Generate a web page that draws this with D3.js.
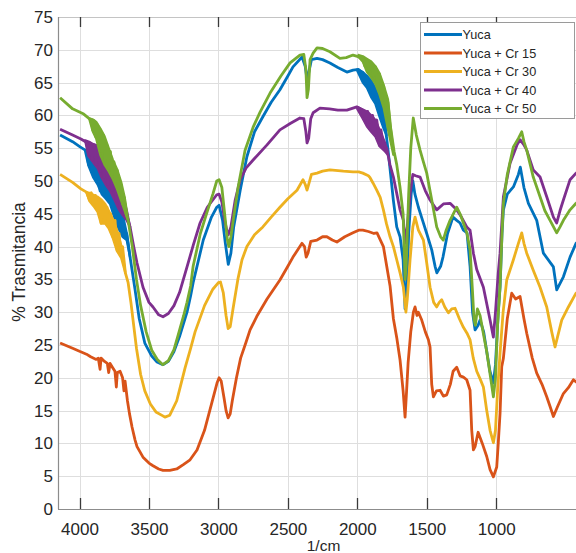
<!DOCTYPE html>
<html>
<head>
<meta charset="utf-8">
<script src="https://cdn.jsdelivr.net/npm/d3@7"></script>
<style>
  html, body { margin: 0; padding: 0; background: #fff; }
  svg { display: block; font-family: "Liberation Sans", Arial, Helvetica, sans-serif; }
</style>
</head>
<body>
<svg id="chart" width="576" height="553"></svg>
<script>
// FTIR transmittance spectra, [wavenumber (1/cm), % transmittance]
const yuca = [[4140,57],[4050,56],[3996,55.2],[3950,54.6],[3935,52.5],[3924,54.3],[3910,51.5],[3895,53.5],[3880,50],[3865,53],[3852,48.5],[3840,52.5],[3825,48],[3810,51.5],[3795,47.5],[3780,50.2],[3765,46.5],[3750,49],[3735,44],[3723,47],[3710,43],[3695,45],[3680,41.5],[3660,42],[3636,38.4],[3600,33.4],[3570,29],[3530,25.3],[3480,23.3],[3442,22.4],[3400,22],[3360,22.5],[3320,24],[3280,26.3],[3226,30],[3200,32.5],[3182,34.5],[3109,41],[3050,44.5],[3012,46],[2995,46.3],[2970,44],[2950,40.5],[2929,37.3],[2910,39],[2890,43],[2843,48.6],[2795,53.7],[2740,57.5],[2680,59.8],[2620,62],[2557,63.9],[2500,66],[2463,67.4],[2398,68.9],[2375,67.5],[2362,65.5],[2350,66.5],[2330,68.5],[2290,68.7],[2250,68.5],[2197,68],[2140,67.3],[2075,66.6],[2030,66.9],[1990,67],[1960,66.5],[1945,65],[1930,66],[1915,64.3],[1900,65.2],[1885,63],[1870,64],[1855,62],[1840,62.8],[1820,60],[1800,58.5],[1780,55],[1760,51],[1740,47],[1716,43],[1692,41.5],[1670,38],[1656,30.5],[1645,33],[1630,42],[1612,48],[1600,50],[1585,48],[1560,46],[1530,44],[1500,42],[1464,39.5],[1440,37],[1427,36],[1400,37],[1383,38.4],[1350,42],[1311,44.5],[1284,44],[1260,43.6],[1236,42.5],[1210,42.1],[1188,37],[1170,30],[1152,27.3],[1130,28],[1116,28.8],[1090,27],[1068,24],[1045,21],[1020,19.2],[1005,22],[985,30],[972,33.8],[958,42],[948,45.6],[920,48],[876,49.1],[840,51],[826,52.1],[800,49],[768,46.6],[708,44],[660,39],[588,36.9],[564,33.4],[516,35.4],[468,38.4],[425,40.5],[400,41]];

const yucaCr15 = [[4140,25.3],[4050,24.5],[3996,24],[3950,23.6],[3920,23.2],[3880,22.8],[3865,23],[3852,21.3],[3845,23],[3820,22.5],[3800,22.2],[3790,20.8],[3780,22.2],[3760,21.5],[3745,21],[3735,18.6],[3728,20.8],[3708,21],[3690,20],[3680,18],[3672,19.5],[3655,16.5],[3640,14.5],[3622,12.5],[3600,10.5],[3586,9.5],[3543,7.9],[3500,7],[3471,6.6],[3430,6.1],[3399,5.9],[3350,5.9],[3300,6.1],[3250,6.8],[3204,7.5],[3154,9],[3100,12],[3050,16],[3010,19.2],[2995,20],[2980,19.5],[2960,17],[2945,15],[2930,13.9],[2915,14.5],[2900,16.5],[2870,20],[2840,23],[2800,25.5],[2772,27.3],[2720,29.5],[2650,32],[2557,34.9],[2500,37],[2463,38.4],[2398,40.5],[2380,40],[2368,38.4],[2355,39],[2335,40.8],[2290,41],[2250,41.5],[2219,41.5],[2180,41],[2147,40.7],[2090,41.5],[2031,42.1],[1990,42.5],[1960,42.5],[1920,42.3],[1880,42],[1858,42.1],[1812,40],[1764,34],[1740,29],[1715,26],[1692,22.7],[1670,18],[1656,14],[1645,18],[1634,22.3],[1615,27],[1596,30],[1584,30.8],[1570,29.5],[1560,30],[1536,28.8],[1510,27],[1488,25.8],[1476,24.7],[1464,19],[1452,17.1],[1430,18],[1404,18.1],[1380,17.2],[1356,17.4],[1330,19],[1310,21],[1284,21.6],[1260,20.3],[1236,20.1],[1212,19.7],[1188,18.1],[1176,12],[1164,9],[1152,9.5],[1130,11.7],[1100,10],[1068,8],[1044,6],[1020,4.9],[996,6.4],[985,10],[972,14.6],[960,21.7],[948,23],[920,29],[888,32.9],[860,32],[828,32.4],[800,29],[780,26.8],[740,23],[708,20.7],[670,19],[636,17.1],[610,15.5],[588,14.1],[560,15.5],[516,17.6],[480,18.5],[444,19.7],[400,19]];

const yucaCr30 = [[4140,51],[4050,49.8],[3990,48.8],[3950,48.3],[3930,47.2],[3915,48.2],[3900,46.5],[3885,47.8],[3870,45.5],[3855,47.2],[3845,43.6],[3830,46.5],[3815,44.2],[3802,46],[3790,43],[3775,45],[3760,41.5],[3744,44],[3730,39.5],[3715,42],[3700,38.5],[3690,40],[3670,36],[3650,34.5],[3630,31.5],[3610,28],[3590,24.5],[3560,20.5],[3530,18],[3490,16],[3450,14.8],[3400,14.2],[3385,14],[3350,14.3],[3300,16.5],[3276,18.5],[3240,21.5],[3200,24.5],[3168,27],[3100,31],[3040,33.5],[3000,34.5],[2985,34.6],[2965,33],[2945,29.5],[2930,27.5],[2915,27.8],[2895,30.5],[2860,35],[2830,38],[2795,40],[2740,41.8],[2680,43],[2620,44.5],[2557,46],[2500,47.3],[2434,48.6],[2391,50.2],[2375,49.5],[2362,48.6],[2350,49.5],[2330,51],[2290,51.2],[2250,51.5],[2197,51.7],[2100,51.5],[2031,51.4],[1990,51.4],[1960,51.2],[1920,50.8],[1908,50.5],[1887,49.7],[1860,48.6],[1835,47.5],[1812,45.6],[1790,43.5],[1764,41.5],[1740,40],[1716,38],[1692,36],[1668,33.8],[1650,30],[1640,32],[1620,38],[1600,43],[1584,44.5],[1560,42.5],[1524,41],[1500,37.5],[1476,33.8],[1450,31.5],[1428,30.8],[1410,31.5],[1392,31.9],[1370,30.8],[1344,29.9],[1320,30.5],[1296,30.6],[1265,29],[1236,27.7],[1210,26.8],[1188,25.8],[1165,23],[1140,21],[1115,19.8],[1092,18.6],[1068,15],[1044,12],[1020,10.1],[1005,12],[990,18],[972,23.8],[950,30],[924,34.9],[876,38],[840,40.5],[816,42.1],[800,40.5],[780,39],[733,36.4],[684,33.8],[636,30.8],[600,27],[576,24.7],[555,26.5],[528,28.8],[480,30.8],[425,32.9],[400,33.2]];

const yucaCr40 = [[4140,57.9],[4050,57],[3990,56.4],[3950,55.9],[3935,54],[3924,55.8],[3910,53.2],[3895,55.5],[3880,52.5],[3865,55.3],[3850,51.5],[3838,55],[3825,50.5],[3810,54],[3795,49.5],[3780,53.2],[3765,48.6],[3750,51.5],[3735,47],[3723,50.2],[3710,46],[3700,48.5],[3686,45],[3670,46],[3650,44],[3636,43],[3610,40],[3586,37.5],[3543,33.8],[3500,31.5],[3471,30.8],[3430,29.6],[3399,29.3],[3360,29.8],[3320,31],[3280,33],[3226,36.9],[3180,40.3],[3132,43.6],[3080,46],[3012,47.9],[2995,48],[2975,46.8],[2955,44],[2940,42.5],[2929,41.8],[2910,43],[2880,47],[2843,50.2],[2800,52],[2750,53.2],[2650,55.5],[2557,57.8],[2480,58.8],[2413,59.6],[2385,59.5],[2370,57.5],[2362,55.8],[2350,56.5],[2335,59.5],[2318,60.4],[2269,61.1],[2200,61],[2140,60.8],[2075,60.8],[2003,61.3],[1960,60.8],[1940,59.5],[1925,60.6],[1908,59],[1890,60],[1875,58.2],[1860,59.3],[1845,57],[1830,57.8],[1810,55.5],[1788,55],[1765,52.5],[1740,50.6],[1715,48],[1692,45.6],[1668,44],[1655,40.5],[1640,43],[1620,48],[1600,51],[1580,50.8],[1548,50.6],[1510,48.5],[1476,47.1],[1428,45.6],[1380,46.5],[1332,46.6],[1284,45.6],[1250,44.5],[1212,43],[1188,42.5],[1164,39],[1140,36.5],[1092,33.8],[1044,28.8],[1020,26.2],[1005,30],[985,36],[972,39],[948,47.6],[900,52.7],[850,55.5],[828,56.3],[800,55.5],[780,54.7],[733,51.7],[684,50.6],[636,47.6],[588,44.5],[564,43.6],[540,45.5],[516,47.1],[468,50.2],[425,51.2],[400,51.5]];

const yucaCr50 = [[4140,62.7],[4050,61],[3970,60.2],[3930,59.5],[3915,59.4],[3905,57.8],[3895,59.2],[3885,56.8],[3872,58.6],[3862,55.5],[3850,57.8],[3840,54.5],[3828,57],[3815,53.2],[3800,55.4],[3790,52],[3778,54.5],[3765,51],[3752,52.9],[3740,50],[3728,51.6],[3715,48.6],[3702,49.5],[3690,46.5],[3678,47.5],[3665,45],[3650,44],[3620,40],[3590,35],[3560,31],[3520,27],[3480,24.2],[3440,22.8],[3400,22],[3360,22.6],[3320,24.3],[3290,26.5],[3250,29.5],[3226,31.5],[3200,34],[3182,37],[3130,42],[3084,45.1],[3040,48],[3012,50],[2995,50.2],[2975,49],[2955,45],[2935,41],[2925,40],[2910,41.5],[2890,44.5],[2858,49.1],[2808,54.7],[2750,58.2],[2700,60.5],[2628,63.4],[2550,66],[2484,68],[2413,69.2],[2385,69.3],[2370,67],[2362,62.7],[2352,64],[2340,68.5],[2318,69.5],[2290,70.3],[2250,70.2],[2197,69.7],[2125,68.7],[2080,68.8],[2031,69.2],[2000,69],[1960,68.7],[1945,67.5],[1930,68.5],[1915,66.8],[1900,68],[1885,66],[1870,67.4],[1855,65],[1840,66.3],[1825,63.5],[1810,64.5],[1795,61.5],[1779,62],[1765,58.5],[1752,57],[1735,54.5],[1716,52.5],[1692,49],[1670,45],[1656,35],[1648,37],[1630,48],[1615,55],[1597,59.6],[1575,57],[1548,54.7],[1525,53],[1500,51.2],[1464,47.1],[1428,43],[1400,41.5],[1381,41],[1360,42.5],[1332,44],[1284,46],[1260,45],[1236,43.6],[1210,42],[1188,39.5],[1170,33],[1160,29],[1150,28],[1135,30.5],[1116,29.5],[1090,26.5],[1068,24],[1040,20],[1020,17.1],[1005,20],[990,28],[972,34],[958,42],[948,46.6],[920,51],[876,55.2],[840,56.5],[816,57.5],[800,56],[780,54.7],[733,50.6],[684,47.6],[650,45.5],[612,44],[564,42.1],[540,43],[516,44],[468,45.6],[425,46.6],[400,47]];

// spread of the noisy stretches, [wavenumber, low, high]
const yucaNoise = [[3960,54.6,54.6],[3935,52.3,54.4],[3900,50.5,53.8],[3870,49.5,53.1],[3840,48,52.5],[3810,47.3,51.5],[3780,46.5,50.2],[3750,44.5,49],[3720,42.8,47],[3690,41.5,45],[3660,41,42],[3636,38.4,38.4],
  null,[2000,66.8,67],[1960,65,66.6],[1930,64.2,66],[1900,62.8,65.3],[1870,61.8,64.2],[1840,59.8,62.9],[1810,58,60.5],[1790,57,57]];
const yucaCr15Noise = [];
const yucaCr30Noise = [[3950,48.3,48.3],[3930,47,48.2],[3900,46.2,47.9],[3870,45.3,47.6],[3845,43.5,47.2],[3815,43.5,46.5],[3790,42.8,45.5],[3760,41.3,44.2],[3730,39.3,42.5],[3700,38.3,40.2],[3670,36,36]];
const yucaCr40Noise = [[3960,56.2,56.2],[3935,53.8,56],[3900,52.8,55.6],[3870,52,55.4],[3840,50.5,55],[3810,49.4,54],[3780,48.5,53.2],[3750,47.2,51.5],[3720,45.8,50],[3690,44.8,48],[3660,44,45.5],[3636,43,43],
  null,[2000,61,61.3],[1960,59.5,60.9],[1930,58.3,60.6],[1900,57.5,60],[1870,56.8,59.3],[1840,55.3,57.8],[1800,54.5,55.8],[1780,54,54]];
const yucaCr50Noise = [[3930,59.5,59.5],[3905,57.6,59.4],[3880,56.5,59],[3850,54,58],[3820,52.5,56.8],[3790,51.5,55],[3760,50.3,53.2],[3730,48.8,51.8],[3700,47,49.8],[3675,45.5,47.5],[3650,44,44],
  null,[1990,68.9,69.2],[1960,68.2,69],[1930,66.6,68.6],[1900,65.8,68.2],[1870,64.8,67.5],[1840,63.2,66.4],[1810,61.2,64.6],[1780,58,62.5],[1760,56,58.5],[1740,54,54]];

const seriesNames = ["Yuca", "Yuca + Cr 15", "Yuca + Cr 30", "Yuca + Cr 40", "Yuca + Cr 50"];
const seriesData = [yuca, yucaCr15, yucaCr30, yucaCr40, yucaCr50];
const seriesNoise = [yucaNoise, yucaCr15Noise, yucaCr30Noise, yucaCr40Noise, yucaCr50Noise];
const seriesColors = ["#0072BD", "#D95319", "#EDB120", "#7E2F8E", "#77AC30"];

const xTicks = [4000, 3500, 3000, 2500, 2000, 1500, 1000];
const yTicks = [0, 5, 10, 15, 20, 25, 30, 35, 40, 45, 50, 55, 60, 65, 70, 75];

// plot geometry
const plotLeft = 58, plotRight = 579.5, plotTop = 17, plotBottom = 509;

const svg = d3.select("#chart");
svg.append("rect").attr("width", 576).attr("height", 553).attr("fill", "#fff");

const x = d3.scaleLinear().domain([4155, 400]).range([plotLeft, plotRight]);
const y = d3.scaleLinear().domain([0, 75]).range([plotBottom, plotTop]);

// grid
const grid = svg.append("g").attr("stroke", "#dedede").attr("stroke-width", 1);
grid.selectAll("line.gy").data(yTicks).join("line")
  .attr("x1", plotLeft).attr("x2", plotRight)
  .attr("y1", d => Math.round(y(d)) + 0.5).attr("y2", d => Math.round(y(d)) + 0.5);
grid.selectAll("line.gx").data(xTicks).join("line")
  .attr("x1", d => Math.round(x(d)) + 0.5).attr("x2", d => Math.round(x(d)) + 0.5)
  .attr("y1", plotTop).attr("y2", plotBottom);

// clip for the spectra
svg.append("clipPath").attr("id", "plotclip")
  .append("rect").attr("x", plotLeft).attr("y", plotTop)
  .attr("width", plotRight - plotLeft).attr("height", plotBottom - plotTop);

const line = d3.line().x(d => x(d[0])).y(d => y(d[1]));
const band = d3.area().defined(d => d !== null)
  .x(d => x(d[0])).y0(d => y(d[1])).y1(d => y(d[2]));

const plot = svg.append("g").attr("clip-path", "url(#plotclip)");
const layers = plot.selectAll("g.series").data(seriesData).join("g").attr("class", "series");
layers.append("path")
  .attr("d", (d, i) => seriesNoise[i].length ? band(seriesNoise[i]) : null)
  .attr("fill", (d, i) => seriesColors[i])
  .attr("stroke", (d, i) => seriesColors[i])
  .attr("stroke-width", 2.4)
  .attr("stroke-linejoin", "round");
layers.append("path")
  .attr("d", line)
  .attr("fill", "none")
  .attr("stroke", (d, i) => seriesColors[i])
  .attr("stroke-width", 2.8)
  .attr("stroke-linejoin", "round");

// frame
svg.append("line").attr("x1", plotLeft).attr("x2", plotRight).attr("y1", plotTop + 0.5).attr("y2", plotTop + 0.5)
  .attr("stroke", "#c4c4c4").attr("stroke-width", 1);
svg.append("line").attr("x1", plotLeft + 0.5).attr("x2", plotLeft + 0.5).attr("y1", plotTop).attr("y2", plotBottom)
  .attr("stroke", "#8c8c8c").attr("stroke-width", 1.2);
svg.append("line").attr("x1", plotLeft).attr("x2", plotRight).attr("y1", plotBottom + 0.5).attr("y2", plotBottom + 0.5)
  .attr("stroke", "#8c8c8c").attr("stroke-width", 1.2);

// x axis ticks (bottom and top) and labels
const xAxis = d3.axisBottom(x).tickValues(xTicks).tickSize(0).tickFormat(d3.format("d"));
const xg = svg.append("g").attr("transform", `translate(0,${plotBottom})`).call(xAxis);
xg.select(".domain").remove();
xg.selectAll("text").attr("dy", 0).attr("y", 25.5)
  .attr("font-size", 17).attr("fill", "#262626")
  .attr("font-family", "Liberation Sans, Arial, sans-serif");

svg.append("g").selectAll("line").data(xTicks).join("line")
  .attr("x1", d => Math.round(x(d)) + 0.5).attr("x2", d => Math.round(x(d)) + 0.5)
  .attr("y1", plotBottom).attr("y2", plotBottom - 11)
  .attr("stroke", "#3a3a3a").attr("stroke-width", 1.3);
svg.append("g").selectAll("line").data(xTicks).join("line")
  .attr("x1", d => Math.round(x(d)) + 0.5).attr("x2", d => Math.round(x(d)) + 0.5)
  .attr("y1", plotTop).attr("y2", plotTop + 10)
  .attr("stroke", "#3a3a3a").attr("stroke-width", 1.3);

// y axis labels
const yAxis = d3.axisLeft(y).tickValues(yTicks).tickSize(0).tickPadding(5);
const yg = svg.append("g").attr("transform", `translate(${plotLeft},0)`).call(yAxis);
yg.select(".domain").remove();
yg.selectAll("text").attr("font-size", 17).attr("fill", "#262626")
  .attr("font-family", "Liberation Sans, Arial, sans-serif");

// axis titles
svg.append("text").attr("x", 323.5).attr("y", 551).attr("text-anchor", "middle")
  .attr("font-size", 15.5).attr("fill", "#262626").text("1/cm");
svg.append("text").attr("transform", "translate(25,262) rotate(-90)").attr("text-anchor", "middle")
  .attr("font-size", 17.5).attr("fill", "#262626").text("% Trasmitancia");

// legend
const lg = svg.append("g");
lg.append("rect").attr("x", 420.5).attr("y", 22.5).attr("width", 154).attr("height", 96)
  .attr("fill", "#fff").attr("stroke", "#9a9a9a").attr("stroke-width", 1);
const items = lg.selectAll("g.item").data(seriesNames).join("g")
  .attr("transform", (d, i) => `translate(0,${34.5 + i * 18.5})`);
items.append("line").attr("x1", 424).attr("x2", 462).attr("y1", 0).attr("y2", 0)
  .attr("stroke", (d, i) => seriesColors[i]).attr("stroke-width", 3);
items.append("text").attr("x", 462.5).attr("y", 4.6)
  .attr("font-size", 12.7).attr("fill", "#262626").text(d => d);
</script>
</body>
</html>
